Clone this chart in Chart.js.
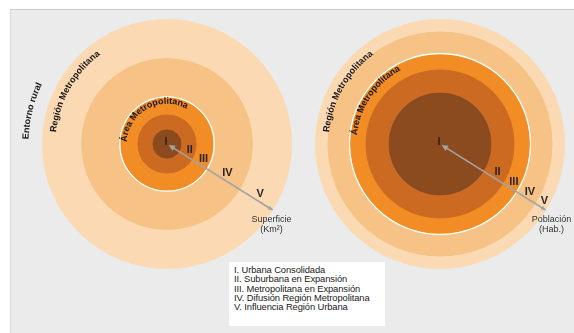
<!DOCTYPE html>
<html><head><meta charset="utf-8">
<script src="https://cdn.jsdelivr.net/npm/chart.js@4/dist/chart.umd.min.js"></script>
<style>
body{margin:0;background:#fff;width:574px;height:333px;overflow:hidden;position:relative;font-family:"Liberation Sans",Arial,sans-serif}
#panel{position:absolute;left:10px;top:9px;width:564px;height:324px;background:#ebebeb;border-top:1px solid #cdcdcd;border-left:1px solid #d6d6d6;box-sizing:border-box}
canvas{position:absolute;left:0;top:0}
#legend{position:absolute;left:229px;top:262px;width:156px;height:64px;background:#fff;box-sizing:border-box;padding:3px 0 0 5px;font-size:9.4px;line-height:9.3px;color:#1a1a1a;white-space:nowrap;letter-spacing:-0.1px}
</style></head><body>
<div id="panel"></div>
<canvas id="c1" width="574" height="333"></canvas>
<canvas id="c2" width="574" height="333"></canvas>
<div id="legend"></div>
<script>
// ---- data ----
const categories = ['I. Urbana Consolidada', 'II. Suburbana en Expansión', 'III. Metropolitana en Expansión', 'IV. Difusión Región Metropolitana', 'V. Influencia Región Urbana'];
const ringLabels = ['I', 'II', 'III', 'IV', 'V'];
const superficieRadius = [15, 30, 47, 86, 124];      // relative radius of each zone (area)
const poblacionRadius = [52, 75, 90.5, 113, 124.5];  // relative radius of each zone (population)
const superficieTitle = ['Superficie', '(Km²)'];
const poblacionTitle = ['Población', '(Hab.)'];
const zoneNames = ['Entorno rural', 'Región Metropolitana', 'Área Metropolitana'];

// ---- styles ----
const ringColors = ['#8c4a1f', '#cc6a22', '#f28c24', '#f6c285', '#fad9b3'];
const DEG = Math.PI / 180;

document.getElementById('legend').innerHTML = categories.map(c => '<div>' + c + '</div>').join('');

function arcText(ctx, text, cx, cy, r, startDeg, font, color) {
  ctx.save();
  ctx.font = font; ctx.fillStyle = color; ctx.textAlign = 'left'; ctx.textBaseline = 'alphabetic';
  let a = startDeg * DEG;
  for (const ch of text) {
    const w = ctx.measureText(ch).width;
    ctx.save();
    ctx.translate(cx + r * Math.cos(a), cy + r * Math.sin(a));
    ctx.rotate(a + Math.PI / 2);
    ctx.fillText(ch, 0, 0);
    ctx.restore();
    a += w / r;
  }
  ctx.restore();
}

function head(ctx, x, y, ang, size) {
  ctx.beginPath();
  ctx.moveTo(x, y);
  ctx.lineTo(x - size * Math.cos(ang - 0.45), y - size * Math.sin(ang - 0.45));
  ctx.lineTo(x - size * Math.cos(ang + 0.45), y - size * Math.sin(ang + 0.45));
  ctx.closePath();
  ctx.fill();
}

function overlay(cfg) {
  return {
    id: 'overlay',
    afterDatasetsDraw(chart) {
      const ctx = chart.ctx;
      const n = cfg.radii.length;
      const arc = i => chart.getDatasetMeta(n - 1 - i).data[0];
      const cx = arc(0).x, cy = arc(0).y;
      // white boundary of the metropolitan area
      ctx.save();
      ctx.strokeStyle = '#ffffff'; ctx.lineWidth = 1.3;
      ctx.beginPath(); ctx.arc(cx, cy, arc(2).outerRadius, 0, Math.PI * 2); ctx.stroke();
      ctx.restore();
      // arrow
      const a = cfg.arrowDeg * DEG;
      const R = arc(n - 1).outerRadius;
      const ux = Math.cos(a), uy = Math.sin(a);
      ctx.save();
      ctx.strokeStyle = '#a3a3a3'; ctx.fillStyle = '#a3a3a3'; ctx.lineWidth = 1.6;
      ctx.beginPath(); ctx.moveTo(cx + 4 * ux, cy + 4 * uy); ctx.lineTo(cx + R * ux, cy + R * uy); ctx.stroke();
      head(ctx, cx + 2 * ux, cy + 2 * uy, a + Math.PI, 7);
      head(ctx, cx + R * ux, cy + R * uy, a, 5);
      ctx.restore();
      // ring labels
      ctx.save();
      ctx.font = 'bold 11px "Liberation Sans", Arial, sans-serif';
      ctx.fillStyle = '#262626'; ctx.textAlign = 'center'; ctx.textBaseline = 'middle';
      ctx.fillText(ringLabels[0], cx - 1, cy - 2);
      for (let i = 1; i < n; i++) {
        const m = (arc(i).innerRadius + arc(i).outerRadius) / 2;
        ctx.fillText(ringLabels[i], cx + m * ux + 7 * uy, cy + m * uy - 7 * ux);
      }
      ctx.restore();
      // end title
      ctx.save();
      ctx.font = '9px "Liberation Sans", Arial, sans-serif';
      ctx.fillStyle = '#333333'; ctx.textAlign = 'center'; ctx.textBaseline = 'middle';
      ctx.fillText(cfg.title[0], cx + R * ux + cfg.titleDx, cy + R * uy + 10);
      ctx.fillText(cfg.title[1], cx + R * ux + cfg.titleDx, cy + R * uy + 20);
      ctx.restore();
      // curved zone names
      const f = 'bold 9px "Liberation Sans", Arial, sans-serif';
      if (cfg.rural) arcText(ctx, zoneNames[0], cx, cy, arc(4).outerRadius + 14, cfg.rural, f, '#141414');
      arcText(ctx, zoneNames[1], cx, cy, arc(4).outerRadius - 13, cfg.region, f, '#141414');
      arcText(ctx, zoneNames[2], cx, cy, arc(2).outerRadius - 7, cfg.area, f, '#141414');
    }
  };
}

function makeChart(id, radii, pad, cfg) {
  const datasets = radii.map((r, i) => ({
    data: [1],
    weight: r - (i ? radii[i - 1] : 0),
    backgroundColor: ringColors[i],
    borderColor: ringColors[i],
    borderWidth: 1
  })).reverse();
  cfg.radii = radii;
  return new Chart(document.getElementById(id), {
    type: 'doughnut',
    data: { labels: [''], datasets },
    options: {
      responsive: false, animation: false, events: [],
      cutout: 0,
      layout: { padding: pad },
      plugins: { legend: { display: false }, tooltip: { enabled: false } }
    },
    plugins: [overlay(cfg)]
  });
}

makeChart('c1', superficieRadius, { left: 42, top: 19, right: 282, bottom: 64 },
  { arrowDeg: 32, title: superficieTitle, titleDx: -1, rural: 182, region: 186, area: 183 });
makeChart('c2', poblacionRadius, { left: 315, top: 19, right: 9, bottom: 64 },
  { arrowDeg: 32, title: poblacionTitle, titleDx: 6, region: 186, area: 186 });
</script>
</body></html>
